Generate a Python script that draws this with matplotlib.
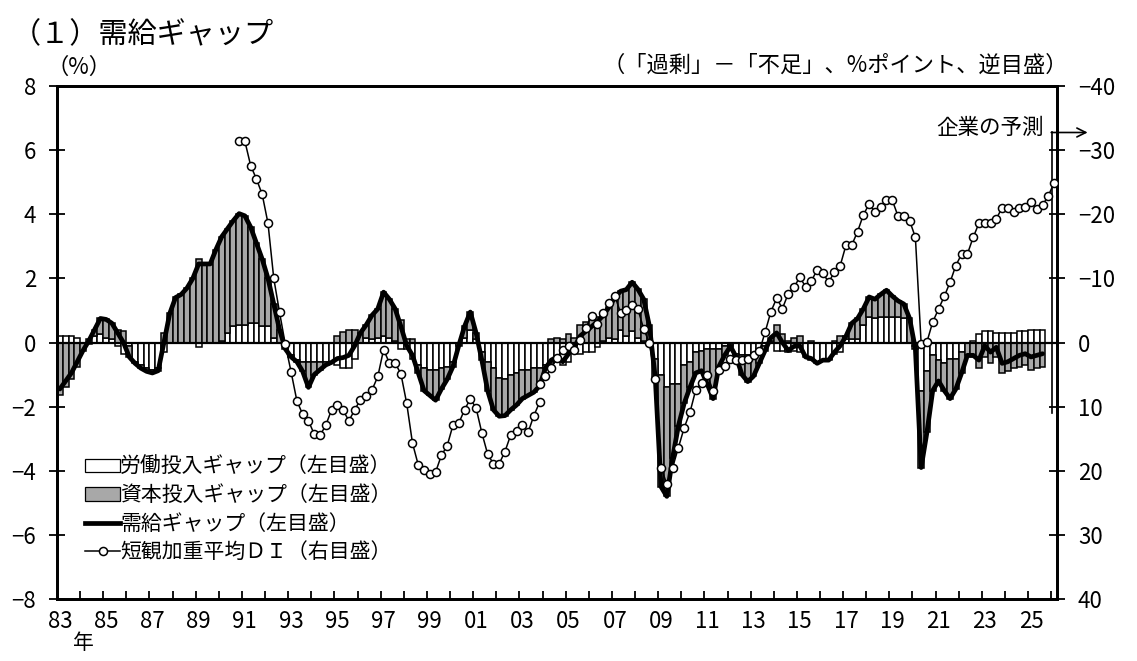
import numpy as np
import matplotlib
matplotlib.use('Agg')
import matplotlib.pyplot as plt
from matplotlib.patches import Patch
from matplotlib.lines import Line2D

plt.rcParams['font.family'] = ['Noto Sans CJK JP', 'DejaVu Sans']

START_YEAR = 1983  # first quarter: 1983Q1

# ---- Output gap components (% , left axis), quarterly 1983Q1 - 2025Q3 ----
output_gap = [
    -1.45, -1.2, -0.95, -0.6,    # 1983
    -0.25, 0.05, 0.4, 0.75,      # 1984
    0.72, 0.6, 0.3, 0.0,         # 1985
    -0.45, -0.65, -0.8, -0.9,    # 1986
    -0.95, -0.88, 0.0, 0.9,      # 1987
    1.4, 1.5, 1.7, 2.0,          # 1988
    2.45, 2.45, 2.45, 2.9,       # 1989
    3.3, 3.55, 3.8, 4.02,        # 1990
    3.95, 3.6, 3.1, 2.6,         # 1991
    2.0, 1.2, 0.4, -0.2,         # 1992
    -0.45, -0.6, -0.9, -1.4,     # 1993
    -1.0, -0.85, -0.7, -0.62,    # 1994
    -0.5, -0.47, -0.4, -0.1,     # 1995
    0.3, 0.55, 0.85, 1.05,       # 1996
    1.57, 1.35, 1.05, 0.5,       # 1997
    -0.1, -0.4, -0.95, -1.5,     # 1998
    -1.65, -1.8, -1.45, -1.15,   # 1999
    -0.75, -0.1, 0.5, 0.95,      # 2000
    0.3, -0.55, -1.5, -2.1,      # 2001
    -2.3, -2.28, -2.1, -1.95,    # 2002
    -1.75, -1.65, -1.55, -1.35,  # 2003
    -0.8, -0.55, -0.45, -0.6,    # 2004
    -0.35, -0.15, 0.2, 0.35,     # 2005
    0.5, 0.65, 0.85, 1.1,        # 2006
    1.4, 1.6, 1.65, 1.88,        # 2007
    1.66, 1.35, 0.5, -1.1,       # 2008
    -4.5, -4.8, -3.6, -2.6,      # 2009
    -1.9, -1.4, -0.95, -0.88,    # 2010
    -1.3, -1.75, -0.75, -0.4,    # 2011
    -0.12, -0.45, -1.0, -1.22,   # 2012
    -1.05, -0.65, -0.25, 0.15,   # 2013
    0.3, 0.0, -0.25, -0.12,      # 2014
    -0.1, -0.45, -0.5, -0.65,    # 2015
    -0.55, -0.55, -0.3, -0.1,    # 2016
    0.2, 0.6, 0.75, 1.05,        # 2017
    1.42, 1.35, 1.5, 1.63,       # 2018
    1.45, 1.3, 1.2, 0.75,        # 2019
    -0.2, -3.9, -2.8, -1.5,      # 2020
    -1.2, -1.5, -1.75, -1.45,    # 2021
    -0.95, -0.4, -0.4, -0.55,    # 2022
    -0.1, -0.3, -0.15, -0.65,    # 2023
    -0.6, -0.5, -0.4, -0.35,     # 2024
    -0.45, -0.4, -0.35,          # 2025
]

labor_gap = [
    0.2, 0.2, 0.2, 0.15,         # 1983
    0.0, 0.1, 0.2, 0.25,         # 1984
    0.15, 0.1, -0.1, -0.35,      # 1985
    -0.1, -0.6, -0.7, -0.8,      # 1986
    -0.85, -0.8, -0.3, -0.02,    # 1987
    -0.02, 0.0, 0.0, -0.02,      # 1988
    -0.15, -0.02, 0.0, 0.0,      # 1989
    0.05, 0.3, 0.5, 0.55,        # 1990
    0.55, 0.6, 0.6, 0.5,         # 1991
    0.5, 0.15, 0.0, -0.05,       # 1992
    -0.4, -0.55, -0.6, -0.6,     # 1993
    -0.6, -0.6, -0.6, -0.6,      # 1994
    -0.7, -0.8, -0.8, -0.5,      # 1995
    0.0, 0.15, 0.1, 0.15,        # 1996
    0.2, 0.15, 0.05, -0.2,       # 1997
    -0.2, -0.5, -0.7, -0.8,      # 1998
    -0.85, -0.85, -0.8, -0.75,   # 1999
    -0.6, 0.0, 0.15, 0.4,        # 2000
    0.1, -0.3, -0.6, -0.8,       # 2001
    -1.1, -1.15, -1.0, -0.95,    # 2002
    -0.85, -0.85, -0.8, -0.8,    # 2003
    -0.7, -0.65, -0.6, -0.7,     # 2004
    -0.6, -0.3, -0.35, -0.3,     # 2005
    -0.3, -0.15, 0.05, 0.15,     # 2006
    0.1, 0.4, 0.2, 0.35,         # 2007
    0.15, 0.05, -0.05, -0.5,     # 2008
    -1.0, -1.4, -1.3, -1.3,      # 2009
    -0.7, -0.6, -0.3, -0.25,     # 2010
    -0.2, -0.2, -0.2, -0.1,      # 2011
    -0.05, -0.35, -0.4, -0.4,    # 2012
    -0.35, -0.3, -0.1, 0.05,     # 2013
    -0.25, -0.25, -0.3, -0.25,   # 2014
    -0.3, -0.45, -0.55, -0.6,    # 2015
    -0.55, -0.5, -0.35, -0.3,    # 2016
    0.1, 0.12, 0.1, 0.55,        # 2017
    0.8, 0.75, 0.8, 0.8,         # 2018
    0.8, 0.8, 0.75, 0.0,         # 2019
    -0.1, -1.5, -0.9, -0.4,      # 2020
    -0.55, -0.65, -0.5, -0.5,    # 2021
    -0.3, 0.0, 0.05, 0.25,       # 2022
    0.35, 0.35, 0.3, 0.3,        # 2023
    0.3, 0.3, 0.35, 0.35,        # 2024
    0.4, 0.4, 0.4,               # 2025
]

capital_gap = [
    -1.65, -1.4, -1.15, -0.75,   # 1983
    -0.25, -0.05, 0.2, 0.5,      # 1984
    0.57, 0.5, 0.4, 0.35,        # 1985
    -0.35, -0.05, -0.1, -0.1,    # 1986
    -0.1, -0.08, 0.3, 0.92,      # 1987
    1.42, 1.5, 1.7, 2.02,        # 1988
    2.6, 2.47, 2.45, 2.9,        # 1989
    3.25, 3.25, 3.3, 3.47,       # 1990
    3.4, 3.0, 2.5, 2.1,          # 1991
    1.5, 1.05, 0.4, -0.15,       # 1992
    -0.05, -0.05, -0.3, -0.8,    # 1993
    -0.4, -0.25, -0.1, -0.02,    # 1994
    0.2, 0.33, 0.4, 0.4,         # 1995
    0.3, 0.4, 0.75, 0.9,         # 1996
    1.37, 1.2, 1.0, 0.7,         # 1997
    0.1, 0.1, -0.25, -0.7,       # 1998
    -0.8, -0.95, -0.65, -0.4,    # 1999
    -0.15, -0.1, 0.35, 0.55,     # 2000
    0.2, -0.25, -0.9, -1.3,      # 2001
    -1.2, -1.13, -1.1, -1.0,     # 2002
    -0.9, -0.8, -0.75, -0.55,    # 2003
    -0.1, 0.1, 0.15, 0.1,        # 2004
    0.25, 0.15, 0.55, 0.65,      # 2005
    0.8, 0.8, 0.8, 0.95,         # 2006
    1.3, 1.2, 1.45, 1.53,        # 2007
    1.51, 1.3, 0.55, -0.6,       # 2008
    -3.5, -3.4, -2.3, -1.3,      # 2009
    -1.2, -0.8, -0.65, -0.63,    # 2010
    -1.1, -1.55, -0.55, -0.3,    # 2011
    -0.07, -0.1, -0.6, -0.82,    # 2012
    -0.7, -0.35, -0.15, 0.1,     # 2013
    0.55, 0.25, 0.05, 0.13,      # 2014
    0.2, 0.0, 0.05, -0.05,       # 2015
    0.0, -0.05, 0.05, 0.2,       # 2016
    0.1, 0.48, 0.65, 0.5,        # 2017
    0.62, 0.6, 0.7, 0.83,        # 2018
    0.65, 0.5, 0.45, 0.75,       # 2019
    -0.1, -2.4, -1.9, -1.1,      # 2020
    -0.65, -0.85, -1.25, -0.95,  # 2021
    -0.65, -0.4, -0.45, -0.8,    # 2022
    -0.45, -0.65, -0.45, -0.95,  # 2023
    -0.9, -0.8, -0.75, -0.7,     # 2024
    -0.85, -0.8, -0.75,          # 2025
]

# ---- Tankan weighted-average DI (right axis, inverted) ----
tankan_old_start = (1990, 4)
tankan_old = [
    -31.4,                       # 1990Q4
    -31.4, -27.6, -25.5, -23.1,  # 1991
    -18.6, -10.0, -4.7, 0.3,     # 1992
    4.6, 9.1, 11.2, 12.2,        # 1993
    14.3, 14.5, 12.9, 10.5,      # 1994
    9.8, 10.6, 12.2, 10.5,       # 1995
    8.9, 8.4, 7.4, 5.3,          # 1996
    1.1, 3.2, 3.2, 4.9,          # 1997
    9.5, 15.7, 19.1, 19.9,       # 1998
    20.5, 20.2, 17.6, 16.1,      # 1999
    12.9, 12.6, 10.5, 8.8,       # 2000
    10.2, 14.1, 17.4, 18.9,      # 2001
    18.9, 17.0, 14.4, 13.8,      # 2002
    12.8, 14.0, 11.4, 9.3,       # 2003
]
tankan_new_start = (2003, 4)
tankan_new = [
    6.5,                         # 2003Q4
    5.3, 4.0, 2.4, 1.1,          # 2004
    0.6, 1.1, -0.4, -2.3,        # 2005
    -4.2, -2.9, -4.6, -6.1,      # 2006
    -7.3, -4.6, -5.1, -5.9,      # 2007
    -5.2, -2.1, 0.1, 5.7,        # 2008
    19.5, 22.1, 19.5, 16.4,      # 2009
    13.3, 10.9, 7.4, 6.3,        # 2010
    5.1, 7.5, 4.3, 3.6,          # 2011
    2.6, 2.7, 2.7, 2.5,          # 2012
    1.9, 1.4, -1.6, -4.8,        # 2013
    -6.9, -5.3, -7.6, -8.6,      # 2014
    -10.2, -8.7, -9.6, -11.3,    # 2015
    -10.8, -9.4, -11.0, -12.0,   # 2016
    -15.2, -15.2, -17.3, -19.9,  # 2017
    -21.6, -20.4, -21.1, -22.2,  # 2018
    -22.2, -19.7, -19.7, -19.0,  # 2019
    -16.4, 0.2, -0.1, -3.2,      # 2020
    -5.2, -7.2, -9.4, -12.0,     # 2021
    -13.8, -13.8, -16.4, -18.6,  # 2022
    -18.6, -18.6, -19.3, -21.0,  # 2023
    -21.0, -20.3, -21.0, -21.1,  # 2024
    -21.9, -20.8, -21.4, -22.9,  # 2025
    -24.9,                       # 2026Q1 (forecast)
]
forecast_quarter = (2026, 1)
END_QUARTER = (2026, 1)

year_labels = ['83', '85', '87', '89', '91', '93', '95', '97', '99', '01', '03',
               '05', '07', '09', '11', '13', '15', '17', '19', '21', '23', '25']

legend_labels = ['労働投入ギャップ（左目盛）', '資本投入ギャップ（左目盛）',
                 '需給ギャップ（左目盛）', '短観加重平均ＤＩ（右目盛）']


def qidx(year, q):
    return (year - START_YEAR) * 4 + (q - 1)


W, H = 1137, 661


def fx(px):
    return px / W


def fy(py):
    return 1 - py / H


fig = plt.figure(figsize=(W / 100, H / 100), dpi=100)
ax = fig.add_axes([fx(57), fy(599), fx(1057) - fx(57), fy(86) - fy(599)])

n_total = qidx(*END_QUARTER) + 1
lab = np.array(labor_gap)
cap = np.array(capital_gap)
og = np.array(output_gap)
x = np.arange(len(og)) + 0.5

cap_bottom = np.where(np.sign(cap) == np.sign(lab), lab, 0.0)
GRAY = '#a8a8a8'
ax.bar(x, lab, width=1.0, color='white', edgecolor='black', linewidth=1.1, zorder=2)
ax.bar(x, cap, bottom=cap_bottom, width=1.0, color=GRAY, edgecolor='black',
       linewidth=1.1, zorder=2)
ax.axhline(0, color='black', lw=1.6, zorder=3)
ax.plot(x, og, color='black', lw=3.4, zorder=4, solid_joinstyle='round',
        solid_capstyle='round')

ax.set_xlim(0, n_total)
ax.set_ylim(-8, 8)
ax.set_yticks(np.arange(-8, 9, 2))
ax.set_yticklabels([str(v) if v >= 0 else '−' + str(-v) for v in range(-8, 9, 2)])

# x ticks: year boundaries (major, no label) and labels at Q1 of odd years
ax.set_xticks(np.arange(4, n_total, 4))
ax.set_xticklabels([])
ax.set_xticks(np.arange(0, n_total - 1, 8)[:len(year_labels)] + 0.5, minor=True)
ax.set_xticklabels(year_labels, minor=True)
ax.tick_params(axis='x', which='major', direction='in', length=6, width=1.3)
ax.tick_params(axis='x', which='minor', length=0, pad=8, labelsize=16)
ax.tick_params(axis='y', direction='inout', length=12, width=1.3, pad=9, labelsize=16)

for s in ax.spines.values():
    s.set_linewidth(2.0)

ax2 = ax.twinx()
ax2.set_ylim(40, -40)
ax2.set_yticks(np.arange(-40, 41, 10))
ax2.set_yticklabels([str(v) if v >= 0 else '−' + str(-v) for v in range(-40, 41, 10)])
ax2.tick_params(axis='y', direction='inout', length=12, width=1.3, pad=9, labelsize=16)
for s in ax2.spines.values():
    s.set_linewidth(2.0)

mk = dict(color='black', lw=1.1, marker='o', ms=5.8, mfc='white', mec='black', mew=1.1)
i0 = qidx(*tankan_old_start)
ax2.plot(np.arange(i0, i0 + len(tankan_old)) + 0.5, tankan_old, zorder=5, **mk)
i1 = qidx(*tankan_new_start)
ax2.plot(np.arange(i1, i1 + len(tankan_new)) + 0.5, tankan_new, zorder=5, **mk)

# forecast marker line and arrow
fq = qidx(*forecast_quarter) + 0.1
ax.plot([fq, fq], [-2.2, 6.55], color='black', lw=1.2, clip_on=False, zorder=6)
ax.annotate('', xy=(fq + 6.2, 6.55), xytext=(fq - 0.1, 6.55),
            arrowprops=dict(arrowstyle='->', lw=1.2, color='black',
                            shrinkA=0, shrinkB=0, mutation_scale=16),
            annotation_clip=False, zorder=6)
fig.text(fx(1044), fy(128), '企業の予測', ha='right', va='center', fontsize=15.5)

# titles / unit labels
fig.text(fx(12), fy(35), '（１）需給ギャップ', ha='left', va='center', fontsize=21)
fig.text(fx(46), fy(67), '（%）', ha='left', va='center', fontsize=16)
fig.text(fx(1068), fy(65), '（「過剰」－「不足」、%ポイント、逆目盛）',
         ha='right', va='center', fontsize=16)
fig.text(fx(73), fy(643), '年', ha='left', va='center', fontsize=15)

handles = [
    Patch(facecolor='white', edgecolor='black', linewidth=0.9),
    Patch(facecolor=GRAY, edgecolor='black', linewidth=0.9),
    Line2D([], [], color='black', lw=3.4),
    Line2D([], [], **mk),
]
fig.legend(handles, legend_labels, loc='upper left',
           bbox_to_anchor=(fx(85), fy(456)), frameon=False, fontsize=15,
           handlelength=1.7, handleheight=0.6, handletextpad=0.0,
           labelspacing=0.3, borderpad=0, borderaxespad=0)

fig.savefig('out.png', dpi=100)
